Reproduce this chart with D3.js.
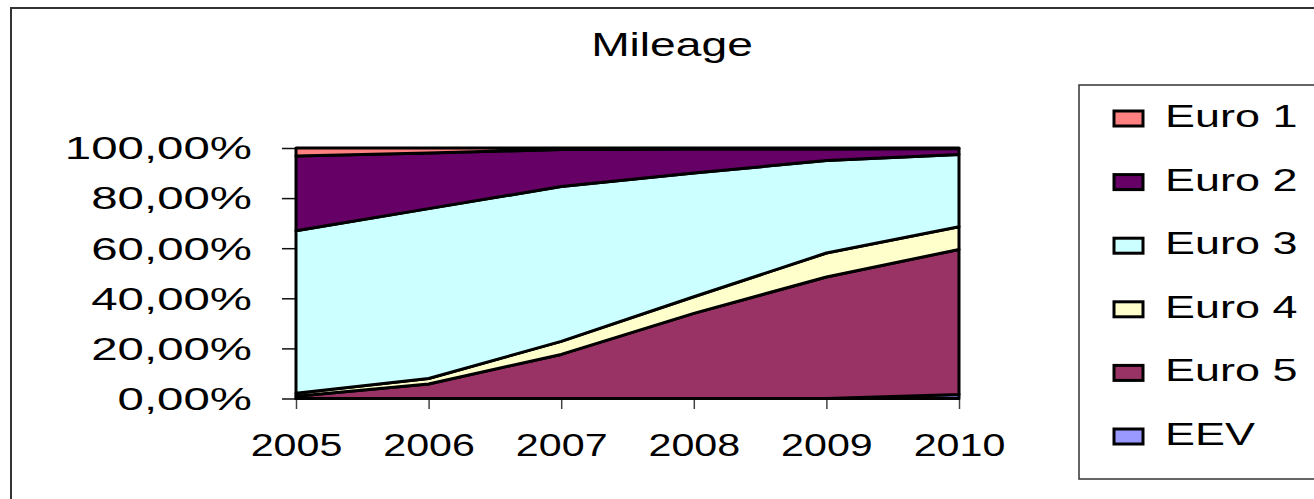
<!DOCTYPE html>
<html>
<head>
<meta charset="utf-8">
<script src="https://cdn.jsdelivr.net/npm/d3@7"></script>
<style>
  html, body { margin: 0; padding: 0; background: #ffffff; }
  svg { display: block; font-family: "Liberation Sans", Arial, sans-serif; }
</style>
</head>
<body>
<svg id="chart" width="1314" height="499"></svg>
<script>
// ---- data (percent share of mileage) ----
const years = ["2005", "2006", "2007", "2008", "2009", "2010"];
const eev   = [0.0, 0.0, 0.0, 0.0, 0.0, 1.6];
const euro5 = [0.9, 5.8, 17.6, 34.0, 48.6, 57.9];
const euro4 = [1.2, 2.2, 5.2, 6.6, 9.6, 9.1];
const euro3 = [64.9, 67.8, 61.8, 49.4, 37.0, 28.8];
const euro2 = [29.8, 22.2, 14.8, 9.6, 4.6, 2.4];
const euro1 = [3.2, 2.0, 0.6, 0.4, 0.4, 0.2];
const legendNames = ["Euro 1", "Euro 2", "Euro 3", "Euro 4", "Euro 5", "EEV"];
const yTicks = [0, 0.2, 0.4, 0.6, 0.8, 1.0];
const title = "Mileage";

// stacking order, bottom to top
const stackKeys = ["EEV", "Euro 5", "Euro 4", "Euro 3", "Euro 2", "Euro 1"];
const seriesValues = {"EEV": eev, "Euro 5": euro5, "Euro 4": euro4, "Euro 3": euro3, "Euro 2": euro2, "Euro 1": euro1};
const colors = {"Euro 1": "#FF8080", "Euro 2": "#660066", "Euro 3": "#CCFFFF",
                "Euro 4": "#FFFFCC", "Euro 5": "#993366", "EEV": "#9999FF"};

const rows = years.map((yr, i) => {
  const r = {year: yr};
  stackKeys.forEach(k => r[k] = seriesValues[k][i]);
  return r;
});

const svg = d3.select("#chart");

// outer chart frame
svg.append("rect")
  .attr("x", 11).attr("y", 8).attr("width", 1400).attr("height", 600)
  .attr("fill", "#ffffff").attr("stroke", "#333333").attr("stroke-width", 2);

const x = d3.scalePoint(years, [296, 959]);
const y = d3.scaleLinear([0, 1], [398.5, 148]);

const stack = d3.stack().keys(stackKeys).offset(d3.stackOffsetExpand);
const layers = stack(rows);

const locale = d3.formatLocale({decimal: ",", thousands: ".", grouping: [3], currency: ["", "€"]});
const pct = locale.format(".2%");

const ySX = 1.53;
const xSX = 1.33;

// y axis
const yAxis = svg.append("g")
  .attr("transform", "translate(296,0)")
  .call(d3.axisLeft(y).tickValues(yTicks).tickFormat(pct).tickSize(14).tickSizeOuter(0));
yAxis.select(".domain").attr("stroke", "#888888").attr("stroke-width", 2);
yAxis.selectAll(".tick line").attr("stroke", "#111111").attr("stroke-width", 1.5);
yAxis.selectAll(".tick text")
  .attr("fill", "#000000")
  .attr("font-size", 31)
  .attr("font-family", "Liberation Sans, Arial, sans-serif")
  .attr("text-anchor", "end")
  .attr("x", (252 - 296) / ySX)
  .attr("dy", "0.35em")
  .attr("transform", `scale(${ySX},1)`);

// x axis
const xAxis = svg.append("g")
  .attr("transform", "translate(0,399)")
  .call(d3.axisBottom(x).tickSize(10).tickSizeOuter(0));
xAxis.select(".domain").remove();
xAxis.selectAll(".tick line").attr("stroke", "#444444").attr("stroke-width", 1.5);
xAxis.selectAll(".tick text")
  .attr("fill", "#000000")
  .attr("font-size", 31)
  .attr("font-family", "Liberation Sans, Arial, sans-serif")
  .attr("text-anchor", "middle")
  .attr("x", 0)
  .attr("y", 57)
  .attr("dy", null)
  .attr("transform", `scale(${xSX},1)`);

// stacked areas
const area = d3.area()
  .x((d, i) => x(years[i]))
  .y0(d => y(d[0]))
  .y1(d => y(d[1]));

svg.append("g").selectAll("path")
  .data(layers)
  .join("path")
  .attr("d", area)
  .attr("fill", d => colors[d.key])
  .attr("stroke", "#000000")
  .attr("stroke-width", 3)
  .attr("stroke-linejoin", "round");

// title
svg.append("g")
  .attr("transform", "translate(672,56) scale(1.40,1)")
  .append("text")
  .attr("text-anchor", "middle")
  .attr("font-size", 33)
  .attr("fill", "#000000")
  .text(title);

// legend
svg.append("rect")
  .attr("x", 1079).attr("y", 85).attr("width", 300).attr("height", 394)
  .attr("fill", "#ffffff").attr("stroke", "#333333").attr("stroke-width", 1.5);

const legendBase = d3.scalePoint(legendNames, [127, 445]);
const leg = svg.append("g").selectAll("g")
  .data(legendNames)
  .join("g");
leg.append("rect")
  .attr("x", 1114).attr("y", d => legendBase(d) - 16)
  .attr("width", 29).attr("height", 15)
  .attr("fill", d => colors[d])
  .attr("stroke", "#000000").attr("stroke-width", 3);
leg.append("g")
  .attr("transform", d => `translate(1165,${legendBase(d)}) scale(1.45,1)`)
  .append("text")
  .attr("font-size", 31)
  .attr("fill", "#000000")
  .text(d => d);
</script>
</body>
</html>
